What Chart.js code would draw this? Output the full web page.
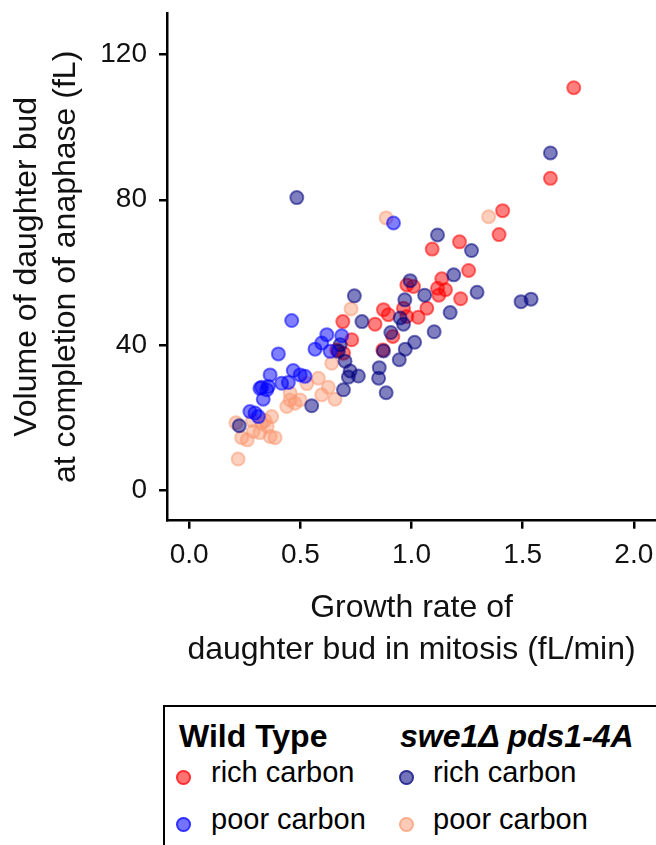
<!DOCTYPE html>
<html>
<head>
  <meta charset="UTF-8" />
  <title>Daughter bud volume vs growth rate</title>
  <script src="https://cdn.jsdelivr.net/npm/chart.js"></script>
  <style>
    body { margin: 0; background: white; overflow: hidden; width: 656px; height: 845px; position: relative; font-family: "Liberation Sans", Arial, sans-serif; }
    #wrap { position: absolute; left: 0; top: 0; width: 656px; height: 680px; }
    .legend { position: absolute; left: 163px; top: 705px; width: 600px; height: 200px; border: 2.5px solid black; }
    .txt { position: absolute; white-space: nowrap; color: black; line-height: 1; }
    .head { font-size: 32px; font-weight: bold; }
    .item { font-size: 29px; }
    .dot { position: absolute; width: 15px; height: 15px; border-radius: 50%; box-sizing: border-box; }
  </style>
</head>
<body>
  <div id="wrap"><canvas id="chart" width="656" height="680"></canvas></div>

  <div class="txt head" style="left:179px; top:720px;">Wild Type</div>
  <div class="txt head" style="left:400px; top:720px; font-style:italic;">swe1Δ pds1-4A</div>

  <div class="dot" style="left:176px; top:770px; background:rgba(255,0,0,0.55); border:2px solid rgba(255,0,0,0.6);"></div>
  <div class="txt item" style="left:211px; top:758px;">rich carbon</div>
  <div class="dot" style="left:176px; top:817px; background:rgba(0,0,255,0.55); border:2px solid rgba(0,0,255,0.6);"></div>
  <div class="txt item" style="left:211px; top:805px;">poor carbon</div>

  <div class="dot" style="left:399px; top:770px; background:rgba(0,0,128,0.55); border:2px solid rgba(0,0,128,0.6);"></div>
  <div class="txt item" style="left:433px; top:758px;">rich carbon</div>
  <div class="dot" style="left:399px; top:817px; background:rgba(250,150,110,0.5); border:2px solid rgba(250,150,110,0.55);"></div>
  <div class="txt item" style="left:433px; top:805px;">poor carbon</div>

  <div class="legend"></div>

  <script>
    // axis ticks
    const xTicks = [0, 0.5, 1.0, 1.5, 2.0];
    const yTicks = [0, 40, 80, 120];

    // Wild Type, rich carbon
    const wtRichRate = [1.73, 1.625, 1.41, 1.394, 1.093, 1.216, 1.257, 1.136, 1.117, 1.153, 1.123, 1.221, 0.979, 1.009, 1.069, 1.03, 0.874, 0.896, 0.836, 0.964, 0.979, 0.916, 0.871, 0.691, 0.731, 0.664, 0.694];
    const wtRichVol  = [110.9, 85.9, 77.0, 70.4, 66.4, 68.4, 60.5, 58.2, 55.6, 55.2, 53.7, 52.7, 56.5, 56.1, 50.1, 47.6, 49.7, 48.3, 45.7, 50.1, 47.8, 42.3, 38.6, 46.4, 41.4, 38.6, 37.7];

    // Wild Type, poor carbon
    const wtPoorRate = [0.919, 0.461, 0.619, 0.686, 0.596, 0.566, 0.634, 0.401, 0.468, 0.499, 0.521, 0.364, 0.416, 0.446, 0.326, 0.349, 0.318, 0.333, 0.273, 0.296, 0.311, 0.356];
    const wtPoorVol  = [73.6, 46.7, 42.8, 42.5, 40.5, 38.8, 38.2, 37.5, 32.9, 31.7, 31.3, 31.7, 29.4, 29.6, 28.3, 27.6, 28.0, 25.0, 21.6, 21.2, 20.2, 28.5];

    // swe1 pds1-4A, rich carbon
    const mutRichRate = [1.625, 1.493, 1.538, 1.117, 1.27, 1.19, 1.295, 0.994, 1.059, 0.97, 1.174, 1.102, 0.743, 0.777, 0.949, 0.964, 0.907, 1.014, 0.972, 0.874, 0.945, 0.855, 0.852, 0.886, 0.679, 0.701, 0.724, 0.761, 0.716, 0.694, 0.484, 0.551, 0.225, 0.671];
    const mutRichVol  = [92.9, 51.9, 52.6, 70.3, 66.0, 59.3, 54.5, 57.7, 53.7, 52.4, 48.9, 43.6, 53.5, 46.4, 47.4, 45.7, 43.4, 40.7, 38.8, 38.3, 35.9, 33.7, 30.8, 26.8, 40.0, 35.5, 32.8, 31.4, 31.1, 27.6, 80.6, 23.2, 17.7, 38.2];

    // swe1 pds1-4A, poor carbon
    const mutPoorRate = [1.347, 0.886, 0.728, 0.641, 0.581, 0.529, 0.626, 0.454, 0.656, 0.454, 0.439, 0.476, 0.499, 0.596, 0.21, 0.22, 0.236, 0.261, 0.285, 0.288, 0.326, 0.318, 0.351, 0.364, 0.386, 0.371, 0.341];
    const mutPoorVol  = [75.3, 75.0, 49.9, 34.9, 30.8, 29.3, 28.3, 26.7, 25.0, 24.8, 23.0, 23.9, 24.8, 26.2, 18.5, 8.5, 14.4, 13.8, 19.1, 16.1, 18.4, 15.8, 17.5, 14.7, 14.4, 20.2, 19.1];

    const pts = (xs, ys) => xs.map((x, i) => ({ x: x, y: ys[i] }));

    const makeSet = (label, xs, ys, fill, edge) => ({
      label: label,
      data: pts(xs, ys),
      backgroundColor: fill,
      borderColor: edge,
      borderWidth: 2,
      pointRadius: 6.5,
    });

    const tickFont = { family: 'Liberation Sans', size: 28 };

    // first dataset is drawn on top
    new Chart(document.getElementById('chart'), {
      type: 'scatter',
      data: {
        datasets: [
          makeSet('WT poor carbon', wtPoorRate, wtPoorVol, 'rgba(0,0,255,0.5)', 'rgba(0,0,255,0.55)'),
          makeSet('swe1 rich carbon', mutRichRate, mutRichVol, 'rgba(0,0,128,0.5)', 'rgba(0,0,128,0.55)'),
          makeSet('WT rich carbon', wtRichRate, wtRichVol, 'rgba(255,0,0,0.5)', 'rgba(255,0,0,0.55)'),
          makeSet('swe1 poor carbon', mutPoorRate, mutPoorVol, 'rgba(250,150,110,0.45)', 'rgba(250,150,110,0.5)'),
        ]
      },
      options: {
        responsive: false,
        animation: false,
        layout: { autoPadding: false, padding: { top: 13, right: 0, left: 0, bottom: 0 } },
        plugins: { legend: { display: false }, tooltip: { enabled: false } },
        scales: {
          x: {
            type: 'linear',
            min: -0.1,
            max: 2.1,
            afterBuildTicks: (s) => { s.ticks = xTicks.map(v => ({ value: v })); },
            afterFit: (s) => { s.height = 159.3; s.paddingLeft = 0; s.paddingRight = 0; },
            grid: { drawOnChartArea: false, drawTicks: true, tickLength: 8, color: 'black', lineWidth: 2.5 },
            border: { display: true, color: 'black', width: 2.5 },
            ticks: { font: tickFont, color: '#111', padding: 10, maxRotation: 0, callback: (v) => v.toFixed(1) },
            title: {
              display: true,
              text: ['Growth rate of', 'daughter bud in mitosis (fL/min)'],
              font: { family: 'Liberation Sans', size: 32, lineHeight: '42px' },
              color: '#111',
              padding: { top: 0, bottom: 9 }
            }
          },
          y: {
            type: 'linear',
            min: -8.5,
            max: 131.5,
            afterBuildTicks: (s) => { s.ticks = yTicks.map(v => ({ value: v })); },
            afterFit: (s) => { s.width = 167; s.paddingTop = 0; s.paddingBottom = 0; },
            grid: { drawOnChartArea: false, drawTicks: true, tickLength: 8, color: 'black', lineWidth: 2.5 },
            border: { display: true, color: 'black', width: 2.5 },
            ticks: { font: tickFont, color: '#111', padding: 12 },
            title: {
              display: true,
              text: ['Volume of daughter bud', 'at completion of anaphase (fL)'],
              font: { family: 'Liberation Sans', size: 32, lineHeight: '39px' },
              color: '#111',
              padding: { top: 8, bottom: 0 }
            }
          }
        }
      }
    });
  </script>
</body>
</html>
